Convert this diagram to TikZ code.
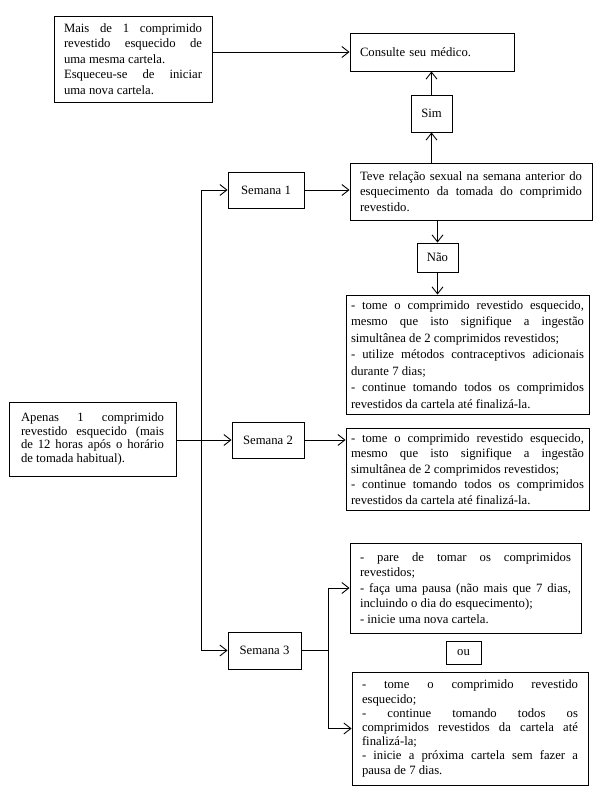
\documentclass[tikz,border=0pt]{standalone}
\usepackage{fontspec}
\setmainfont{Liberation Serif}
\usetikzlibrary{arrows.meta}
\hyphenpenalty=10000
\exhyphenpenalty=10000
\tolerance=10000

\begin{document}
\begin{tikzpicture}[x=1pt, y=-1pt]
  % Styles
  \tikzstyle{box}=[rectangle, draw, line width=0.9pt, inner xsep=10pt, inner ysep=2pt, align=justify, font=\fontsize{12.7}{15.5}\selectfont]
  \tikzstyle{tag}=[rectangle, draw, line width=0.9pt, inner sep=0pt, align=center, font=\fontsize{12.7}{15.5}\selectfont]
  \tikzstyle{arrow}=[-{Straight Barb[length=7pt, width=11pt]}, line width=0.9pt]
  \tikzstyle{link}=[line width=0.9pt]

  \useasboundingbox (0,0) rectangle (599,806);

  % More than one tablet forgotten
  \node[box, text width=138pt, minimum height=86pt] (mais) at (133,59) {Mais de 1 comprimido revestido esquecido de uma mesma cartela.\\ Esqueceu-se de iniciar\linebreak uma nova cartela.};
  \node[box, text width=144pt, minimum height=38pt, align=left] (consulte) at (432,52) {Consulte seu médico.};
  \node[tag, minimum width=41pt, minimum height=37pt] (sim) at (431.5,113.5) {Sim};
  \node[box, text width=222pt, minimum height=57pt] (teve) at (471,191.5) {Teve relação sexual na semana anterior do esquecimento da tomada do comprimido revestido.};

  % Week 1
  \node[tag, minimum width=76pt, minimum height=36pt] (sem1) at (266,190) {Semana 1};
  \node[tag, minimum width=41pt, minimum height=29pt] (nao) at (437.5,257.5) {Não};
  \node[box, inner xsep=5pt, text width=233pt, minimum height=119pt, font=\fontsize{12.7}{16.5}\selectfont] (pass1) at (467.5,354.5) {- tome o comprimido revestido esquecido, mesmo que isto signifique a ingestão simultânea de 2 comprimidos revestidos;\\ - utilize métodos contraceptivos adicionais durante 7 dias;\\ - continue tomando todos os comprimidos revestidos da cartela até finalizá-la.};

  % One tablet forgotten
  \node[box, inner xsep=12pt, text width=143pt, minimum height=74pt, font=\fontsize{12.7}{13.8}\selectfont] (apenas) at (92.5,439) {Apenas 1 comprimido revestido esquecido (mais de 12 horas após o horário de tomada habitual).};

  % Week 2
  \node[tag, minimum width=72pt, minimum height=36pt] (sem2) at (268,440) {Semana 2};
  \node[box, inner xsep=5pt, text width=233pt, minimum height=82pt] (pass2) at (467.5,469) {- tome o comprimido revestido esquecido, mesmo que isto signifique a ingestão simultânea de 2 comprimidos revestidos;\\ - continue tomando todos os comprimidos revestidos da cartela até finalizá-la.};

  % Week 3
  \node[tag, minimum width=73pt, minimum height=37pt] (sem3) at (264.5,650.5) {Semana 3};
  \node[box, text width=211pt, minimum height=90pt] (opt1) at (465.5,588) {- pare de tomar os comprimidos revestidos;\\ - faça uma pausa (não mais que 7 dias, incluindo o dia do esquecimento);\\ - inicie uma nova cartela.};
  \node[tag, minimum width=35pt, minimum height=23pt] (ou) at (463.5,652.5) {ou};
  \node[box, text width=216pt, minimum height=113pt, font=\fontsize{12.7}{14.2}\selectfont] (opt2) at (470,728.5) {- tome o comprimido revestido\linebreak esquecido;\\ - continue tomando todos os\linebreak comprimidos revestidos da cartela até finalizá-la;\\ - inicie a próxima cartela sem fazer a\linebreak pausa de 7 dias.};

  % Connectors
  \draw[arrow] (mais.east |- consulte.west) -- (consulte.west);
  \draw[arrow] (sim.north) -- (sim.north |- consulte.south);
  \draw[arrow] (teve.north -| sim) -- (sim.south);
  \draw[arrow] (sem1.east) -- (sem1.east -| teve.west);
  \draw[arrow] (teve.south -| nao) -- (nao.north);
  \draw[arrow] (nao.south) -- (nao.south |- pass1.north);

  \coordinate (split) at (201,440);
  \draw[arrow] (apenas.east |- sem2.west) -- (sem2.west);
  \draw[arrow] (split) |- (sem1.west);
  \draw[arrow] (split) |- (sem3.west);
  \draw[arrow] (sem2.east) -- (sem2.east -| pass2.west);

  \coordinate (fork) at (328,650.5);
  \draw[link] (sem3.east) -- (fork);
  \draw[arrow] (fork) |- (opt1.west);
  \draw[arrow] (fork) |- (opt2.west);
\end{tikzpicture}
\end{document}
